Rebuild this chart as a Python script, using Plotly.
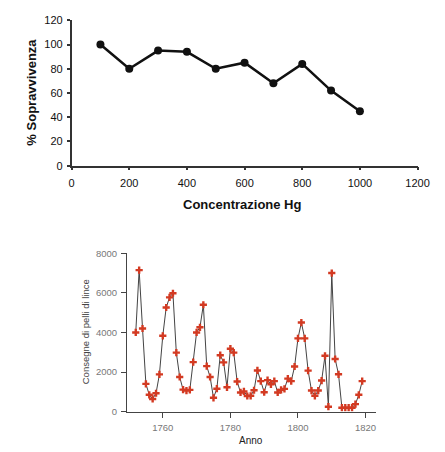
import plotly.graph_objects as go

# Top chart data
conc_hg = [100, 200, 300, 400, 500, 600, 700, 800, 900, 1000]
sopravvivenza = [100, 80, 95, 94, 80, 85, 68, 84, 62, 45]

# Bottom chart data (lynx pelts)
anni = list(range(1752, 1820))
pelli = [4000, 7150, 4200, 1400, 850, 640, 930, 1880, 3830, 5260,
         5770, 5980, 2980, 1750, 1110, 1065, 1100, 2500, 4000, 4260,
         5400, 2300, 1750, 700, 1160, 2850, 2490, 1230, 3180, 2980,
         1520, 970, 1020, 790, 800, 1080, 2080, 1540, 980, 1590,
         1380, 1540, 970, 1100, 1150, 1670, 1540, 2280, 3700, 4500,
         3700, 2070, 1065, 800, 1065, 1570, 2820, 250, 7000, 2660,
         1885, 200, 200, 200, 200, 380, 850, 1540]

W, H = 445, 452


def px(x):
    return x / W


def py(y):
    return 1 - y / H


fig = go.Figure()
fig.add_trace(go.Scatter(
    x=conc_hg, y=sopravvivenza, mode="lines+markers",
    line=dict(color="#111111", width=2.5),
    marker=dict(symbol="circle", size=8, color="#111111"),
    xaxis="x", yaxis="y", showlegend=False))
fig.add_trace(go.Scatter(
    x=anni, y=pelli, mode="lines+markers",
    line=dict(color="#444444", width=1),
    marker=dict(symbol="cross", size=6, color="#d33a22", line=dict(width=0)),
    xaxis="x2", yaxis="y2", showlegend=False))

top_font = dict(family="Liberation Sans, Arial", size=11, color="#111111")
bot_font = dict(family="Liberation Sans, Arial", size=9.5, color="#777777")

fig.update_layout(
    width=W, height=H,
    margin=dict(l=0, r=0, t=0, b=0),
    plot_bgcolor="white", paper_bgcolor="white",
    xaxis=dict(domain=[px(71), px(429)], anchor="y", range=[0, 1200],
               tickvals=[0, 200, 400, 600, 800, 1000, 1200],
               showline=True, linecolor="#333333", linewidth=1.5,
               ticks="outside", ticklen=3, tickcolor="#333333", tickwidth=1.5,
               showgrid=False, zeroline=False, tickfont=top_font,
               ticklabelstandoff=3),
    yaxis=dict(domain=[py(164), py(14.7)], anchor="x", range=[0, 120],
               tickvals=[0, 20, 40, 60, 80, 100, 120],
               showline=True, linecolor="#333333", linewidth=1.5,
               ticks="outside", ticklen=3, tickcolor="#333333", tickwidth=1.5,
               showgrid=False, zeroline=False, tickfont=top_font,
               ticklabelstandoff=2),
    xaxis2=dict(domain=[px(128.3), px(385.7)], anchor="y2", range=[1749.4, 1823],
                tickvals=[1760, 1780, 1800, 1820],
                showline=True, linecolor="#444444", linewidth=1,
                ticks="outside", ticklen=5, tickcolor="#444444", tickwidth=1,
                showgrid=False, zeroline=False, tickfont=bot_font,
                ticklabelstandoff=2),
    yaxis2=dict(domain=[py(416.7), py(254)], anchor="x2", range=[0, 8000],
                tickvals=[0, 2000, 4000, 6000, 8000],
                showline=True, linecolor="#444444", linewidth=1,
                ticks="outside", ticklen=5, tickcolor="#444444", tickwidth=1,
                showgrid=False, zeroline=False, tickfont=bot_font,
                ticklabelstandoff=2),
    annotations=[
        dict(text="<b>Concentrazione Hg</b>", x=px(248), y=py(204),
             xanchor="center", yanchor="middle",
             xref="paper", yref="paper", showarrow=False,
             font=dict(family="Liberation Sans, Arial", size=13, color="#111111")),
        dict(text="<b>% Sopravvivenza</b>", x=px(30), y=py(88), textangle=-90,
             xanchor="center", yanchor="middle",
             xref="paper", yref="paper", showarrow=False,
             font=dict(family="Liberation Sans, Arial", size=13, color="#111111")),
        dict(text="Anno", x=px(257), y=py(446.5),
             xanchor="center", yanchor="middle",
             xref="paper", yref="paper", showarrow=False,
             font=dict(family="Liberation Sans, Arial", size=10, color="#222222")),
        dict(text="Consegne di pelli di lince", x=px(85), y=py(335), textangle=-90,
             xanchor="center", yanchor="middle",
             xref="paper", yref="paper", showarrow=False,
             font=dict(family="Liberation Sans, Arial", size=9.5, color="#444444")),
    ],
)

# remove the default page margin so the figure sits at the window's top-left
fig.write_html("out.html",
               config={"displayModeBar": False},
               post_script="document.body.style.margin='0';"
                           "document.body.style.overflow='hidden';")
